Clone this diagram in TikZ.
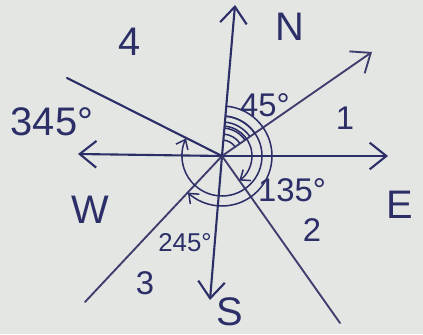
\documentclass[tikz,border=0pt]{standalone}
\usepackage{fontspec}
\setmainfont{Liberation Sans}
\usetikzlibrary{arrows.meta}
\definecolor{InkBlue}{HTML}{2C2E68}
\definecolor{PaperGray}{HTML}{E4E6E3}
\tikzset{
  axis/.style={draw=InkBlue, line width=1.8pt, line cap=round},
  ray/.style={draw=InkBlue!80!gray, line width=1.6pt, line cap=round},
  tip/.style={-{Straight Barb[length=5mm, width=8mm]}},
  arcline/.style={draw=InkBlue, line width=1.3pt},
  arctip/.style={-{Straight Barb[length=2.5mm, width=4mm]}},
  biglabel/.style={text=InkBlue, font=\fontsize{34}{34}\selectfont, inner sep=0pt},
  midlabel/.style={text=InkBlue, font=\fontsize{28}{28}\selectfont, inner sep=0pt},
  smalllabel/.style={text=InkBlue, font=\fontsize{22}{22}\selectfont, inner sep=0pt}
}

\begin{document}
\begin{tikzpicture}[x=0.03cm, y=0.03cm]
\fill[PaperGray] (0,0) rectangle (423,334);
\useasboundingbox (0,0) rectangle (423,334);
% centre and axis ends
\coordinate (o) at (222,178);
\coordinate (north) at (235,329);
\coordinate (south) at (210,34);
\coordinate (west) at (78,180);
\coordinate (east) at (388,178);
% ray ends
\coordinate (r1) at (372,282);
\coordinate (r2) at (340,11);
\coordinate (r3) at (85,32);
\coordinate (r4) at (67,256);
% compass axes
\draw[axis, tip] (o) -- (north);
\draw[axis, tip] (o) -- (south);
\draw[axis, tip] (o) -- (west);
\draw[axis, tip] (o) -- (east);
% numbered rays
\draw[ray, tip] (o) -- (r1);
\draw[ray] (o) -- (r2);
\draw[ray] (o) -- (r3);
\draw[axis] (o) -- (r4);
% angle arcs
\foreach \r in {16,22,28,34,40}
  \draw[arcline] ([shift={(85:\r)}]o) arc[start angle=85, end angle=35, radius=\r];
\draw[arcline, arctip] ([shift={(85:30)}]o) arc[start angle=85, end angle=-55, radius=30];
\draw[arcline, arctip] ([shift={(85:40)}]o) arc[start angle=85, end angle=-206, radius=40];
\draw[arcline, arctip] ([shift={(85:50)}]o) arc[start angle=85, end angle=-133, radius=50];
% labels
\node[biglabel] (lN) at (290,307) {N};
\node[biglabel] (lE) at (400,129) {E};
\node[biglabel] (lW) at (90,124) {W};
\node[biglabel] (lS) at (230,22) {S};
\node[biglabel] (l4) at (130,292) {4};
\node[biglabel] (a4) at (52,212) {345°};
\node[midlabel] (l1) at (345,216) {1};
\node[midlabel] (a1) at (265,229) {45°};
\node[midlabel] (a2) at (292,144) {135°};
\node[midlabel] (l2) at (312,104) {2};
\node[smalllabel] (a3) at (185,91) {245°};
\node[midlabel] (l3) at (145,51) {3};
\end{tikzpicture}
\end{document}
